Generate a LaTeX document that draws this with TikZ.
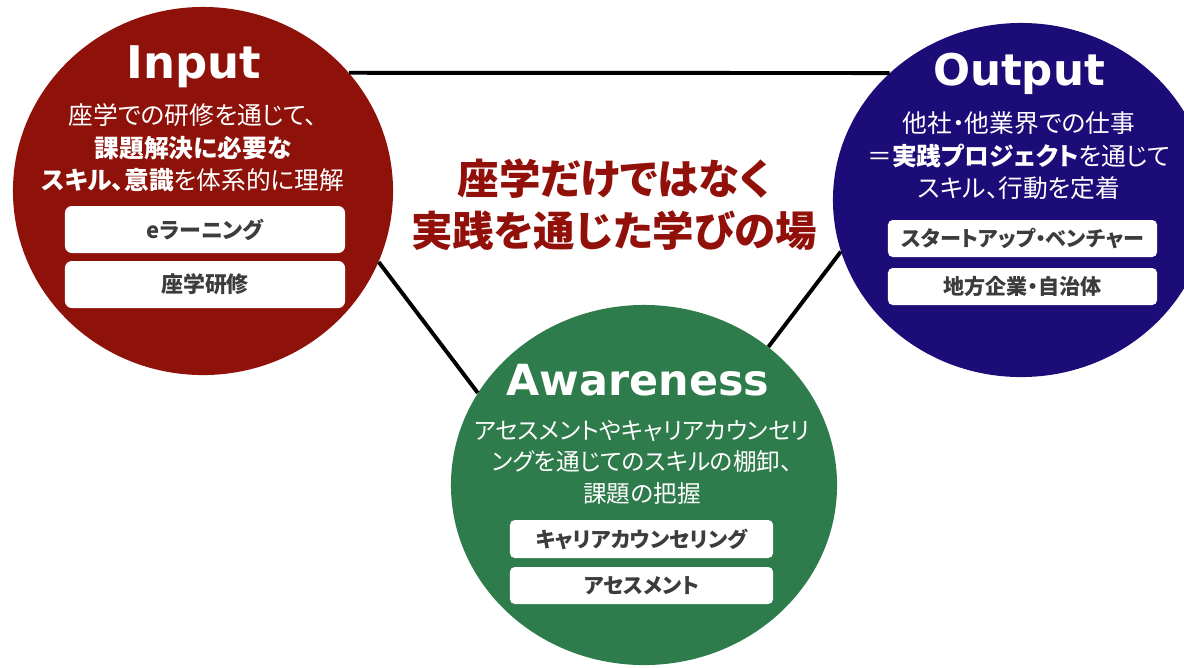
\documentclass[tikz,border=0pt]{standalone}
\usepackage{fontspec}
\setmainfont{Noto Sans CJK JP}[RawFeature=+palt]
\newfontfamily\titlefont{DejaVu Sans}
\usetikzlibrary{shapes.geometric}
\definecolor{inred}{RGB}{142,17,10}
\definecolor{outblue}{RGB}{27,12,120}
\definecolor{awgreen}{RGB}{46,123,75}
\definecolor{headred}{RGB}{145,16,10}
\definecolor{boxtext}{RGB}{60,60,60}
\begin{document}
\begin{tikzpicture}[x=0.025cm,y=-0.025cm,
  bubble/.style={ellipse, inner sep=0pt, draw=none},
  link/.style={line width=2.8pt, black},
  title/.style={text=white, anchor=base, font=\titlefont\bfseries\fontsize{31}{31}\selectfont, inner sep=0pt},
  body/.style={text=white, align=center, inner sep=0pt, font=\fontsize{17.6}{23.2}\selectfont},
  tag/.style={fill=white, rounded corners=0.17cm, inner sep=0pt, text=boxtext, font=\bfseries\fontsize{15}{15}\selectfont},
  head/.style={text=headred, align=center, inner sep=0pt, font=\bfseries\fontsize{29.5}{37}\selectfont}]
\useasboundingbox (0,0) rectangle (1184,667);
\clip (0,0) rectangle (1184,667);
% circles
\node[bubble, fill=inred, minimum width=9.5cm, minimum height=9.2cm] (in) at (203,191) {};
\node[bubble, fill=outblue, minimum width=9.4cm, minimum height=8.85cm] (out) at (1021,200) {};
\node[bubble, fill=awgreen, minimum width=9.65cm, minimum height=9cm] (aw) at (644,485) {};
% connectors
\draw[link] (in.39) -- (out.136);
\draw[link] (in.-22) -- (aw.151);
\draw[link] (out.196) -- (aw.48);
% Input
\node[title, font=\titlefont\bfseries\fontsize{32}{32}\selectfont] (intitle) at (194,78) {Input};
\node[body] (inbody) at (193,148) {座学での研修を通じて、\\\textbf{課題解決に必要な}\\\textbf{スキル、意識}を体系的に理解};
\node[tag, minimum width=7cm, minimum height=1.175cm, font=\bfseries\fontsize{15.6}{15.6}\selectfont] (inb1) at (205,229.5) {eラーニング};
\node[tag, minimum width=7cm, minimum height=1.175cm, font=\bfseries\fontsize{15.6}{15.6}\selectfont] (inb2) at (205,284.5) {座学研修};
% Output
\node[title] (outtitle) at (1019,85) {Output};
\node[body] (outbody) at (1019,156) {他社・他業界での仕事\\＝\textbf{実践プロジェクト}を通じて\\スキル、行動を定着};
\node[tag, minimum width=6.725cm, minimum height=0.925cm, rounded corners=0.12cm] (outb1) at (1022.5,238.5) {スタートアップ・ベンチャー};
\node[tag, minimum width=6.725cm, minimum height=0.925cm, rounded corners=0.12cm] (outb2) at (1022.5,286.5) {地方企業・自治体};
% Awareness
\node[title, font=\titlefont\bfseries\fontsize{30.5}{30.5}\selectfont] (awtitle) at (638,395) {Awareness};
\node[body, font=\fontsize{16.8}{22.4}\selectfont] (awbody) at (642,462) {アセスメントやキャリアカウンセリ\\ングを通じてのスキルの棚卸、\\課題の把握};
\node[tag, minimum width=6.575cm, minimum height=0.95cm, rounded corners=0.12cm] (awb1) at (641.5,539) {キャリアカウンセリング};
\node[tag, minimum width=6.575cm, minimum height=0.925cm, rounded corners=0.12cm] (awb2) at (641.5,585.5) {アセスメント};
% headline
\node[head] (headline) at (614,205) {座学だけではなく\\実践を通じた学びの場};
\end{tikzpicture}
\end{document}
